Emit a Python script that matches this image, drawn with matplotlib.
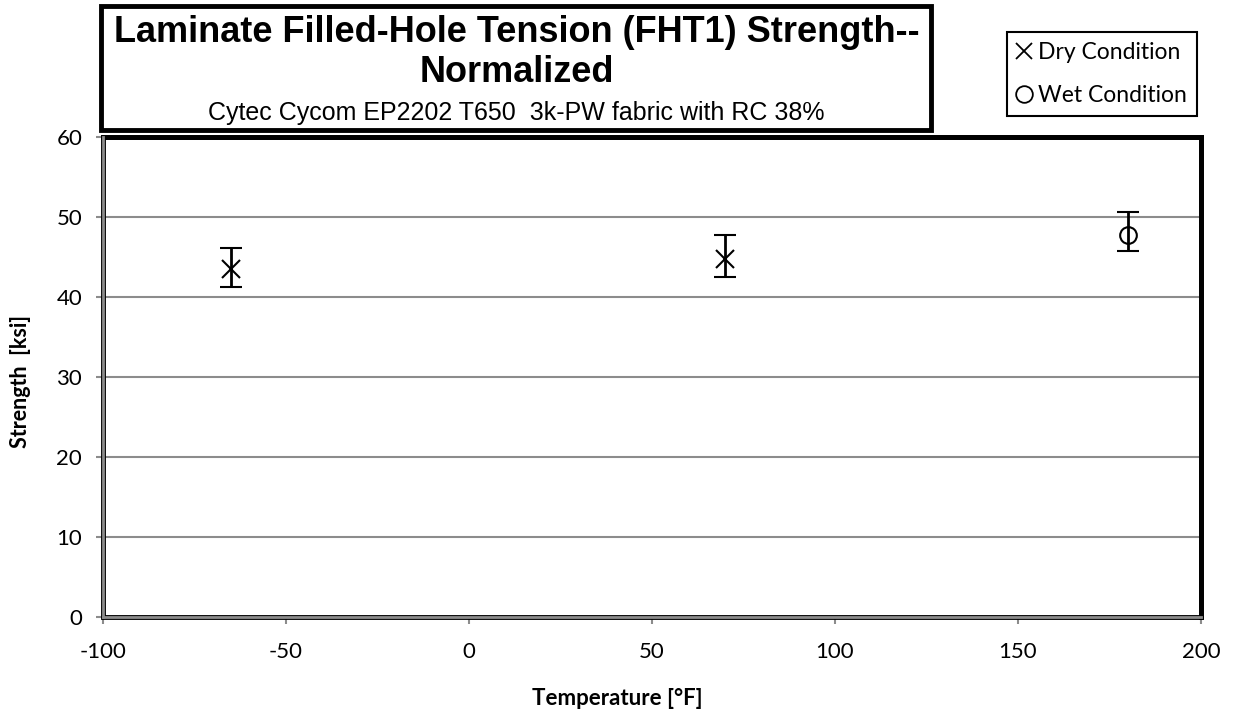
import matplotlib
matplotlib.use("Agg")
import matplotlib.pyplot as plt
from matplotlib.patches import Rectangle
from matplotlib.lines import Line2D

# Data: temperature [°F] and normalized strength [ksi]
dry_temp = [-65, 70]
dry_strength = [43.5, 44.8]
dry_lower = [41.3, 42.5]
dry_upper = [46.1, 47.7]

wet_temp = [180]
wet_strength = [47.7]
wet_lower = [45.7]
wet_upper = [50.6]

x_ticks = [-100, -50, 0, 50, 100, 150, 200]
y_ticks = [0, 10, 20, 30, 40, 50, 60]

title_line1 = "Laminate Filled-Hole Tension (FHT1) Strength--"
title_line2 = "Normalized"
subtitle = "Cytec Cycom EP2202 T650  3k-PW fabric with RC 38%"

W, H = 1234, 710
fig = plt.figure(figsize=(W / 100, H / 100), dpi=100)
fig.patch.set_facecolor("white")

body_font = ["Lato", "DejaVu Sans"]
title_font = ["Liberation Sans Narrow", "Liberation Sans", "DejaVu Sans"]

ax = fig.add_axes([103 / W, 1 - 617 / H, (1201 - 103) / W, (617 - 137) / H])
ax.set_xlim(-100, 200)
ax.set_ylim(0, 60)
ax.set_xticks(x_ticks)
ax.set_yticks(y_ticks)
ax.set_xticklabels([str(v) for v in x_ticks], fontfamily=body_font, fontsize=16)
ax.set_yticklabels([str(v) for v in y_ticks], fontfamily=body_font, fontsize=16)
ax.tick_params(axis="both", direction="out", length=5, width=1.5, color="#8c8c8c")
ax.tick_params(axis="y", pad=10)
ax.tick_params(axis="x", pad=13)
ax.yaxis.grid(True, color="#8c8c8c", linewidth=1.5)
ax.set_axisbelow(True)
for side in ["top", "right"]:
    ax.spines[side].set_color("black")
    ax.spines[side].set_linewidth(3.5)
for side in ["left", "bottom"]:
    ax.spines[side].set_color("#8c8c8c")
    ax.spines[side].set_linewidth(2)
    ax.spines[side].set_zorder(3)

# Black frame around the plot area
frame = Rectangle((0, 0), 1, 1, transform=ax.transAxes, fill=False,
                  edgecolor="black", linewidth=3.5, zorder=1, clip_on=False)
ax.add_patch(frame)

ax.set_xlabel("Temperature [°F]", fontfamily=body_font, fontweight="bold", fontsize=16)
ax.set_ylabel("Strength  [ksi]", fontfamily=body_font, fontweight="bold", fontsize=15.5)
ax.xaxis.set_label_coords(0.468, -(688 - 617) / 480)
ax.yaxis.set_label_coords(-(103 - 31) / 1098, 0.49)

dry_err = [[s - lo for s, lo in zip(dry_strength, dry_lower)],
           [hi - s for s, hi in zip(dry_strength, dry_upper)]]
wet_err = [[s - lo for s, lo in zip(wet_strength, wet_lower)],
           [hi - s for s, hi in zip(wet_strength, wet_upper)]]

ax.errorbar(dry_temp, dry_strength, yerr=dry_err, fmt="x", color="black",
            markersize=13, markeredgewidth=1.5, elinewidth=2, capsize=8, capthick=2, zorder=5)
ax.errorbar(wet_temp, wet_strength, yerr=wet_err, fmt="o", color="black",
            markerfacecolor="none", markersize=12, markeredgewidth=1.5,
            elinewidth=2, capsize=8, capthick=2, zorder=5)

# Title box
tb = Rectangle((101 / W, 1 - 130 / H), (931 - 101) / W, (130 - 6) / H,
               transform=fig.transFigure, fill=False, edgecolor="black", linewidth=3.5)
fig.add_artist(tb)
fig.text(517 / W, 1 - 33 / H, title_line1, ha="center", va="center",
         fontfamily=title_font, fontweight="bold", fontsize=26)
fig.text(517 / W, 1 - 72 / H, title_line2, ha="center", va="center",
         fontfamily=title_font, fontweight="bold", fontsize=26)
fig.text(516 / W, 1 - 113 / H, subtitle, ha="center", va="center",
         fontfamily=title_font, fontsize=18)

# Legend
handles = [Line2D([], [], linestyle="none", marker="x", color="black", markersize=12, markeredgewidth=1.3),
           Line2D([], [], linestyle="none", marker="o", color="black", markerfacecolor="none",
                  markersize=12, markeredgewidth=1.3)]
leg = fig.legend(handles, ["Dry Condition", "Wet Condition"],
                 loc="upper right", bbox_to_anchor=(1197 / W, 1 - 32 / H),
                 frameon=True, fancybox=False, edgecolor="black", framealpha=1,
                 prop={"family": body_font, "size": 16.5}, handlelength=0.6,
                 handletextpad=0.3, labelspacing=0.95, borderpad=0.45, borderaxespad=0)
leg.get_frame().set_linewidth(1.5)

fig.savefig("out.png", dpi=100)
